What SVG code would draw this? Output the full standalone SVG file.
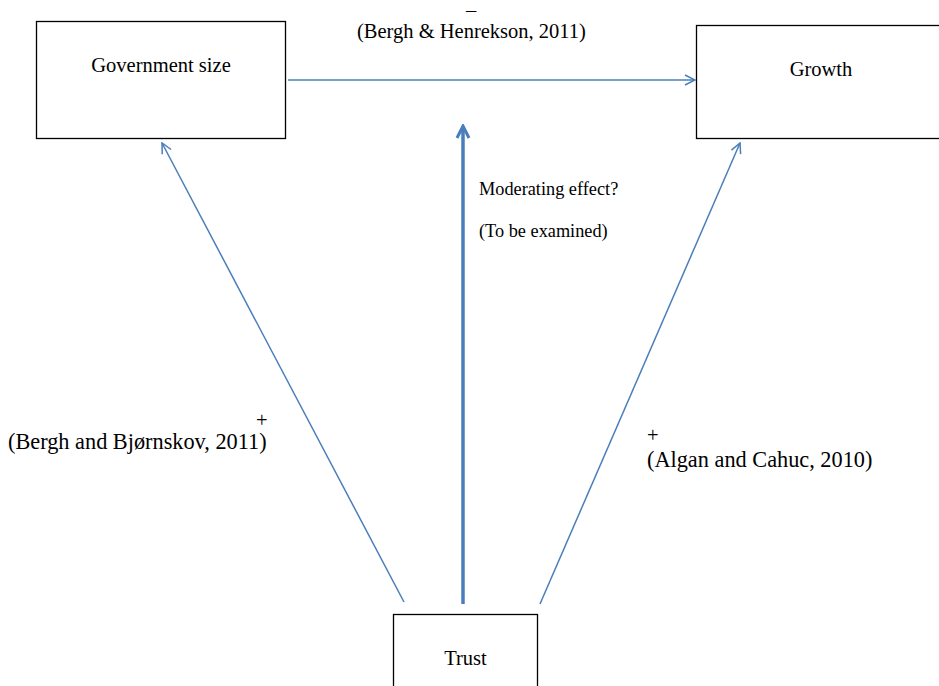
<svg xmlns="http://www.w3.org/2000/svg" width="939" height="686" viewBox="0 0 939 686">
<style>
.box{fill:#fff;stroke:#000;stroke-width:1.3}
.t{font-family:"Liberation Serif","Times New Roman",serif;fill:#000}
.lbl{font-size:20.5px}
.big{font-size:22.3px}
.small{font-size:18.3px}
.c{stroke:#4a7ebb;stroke-width:1.5;fill:none}
</style>
<defs>
<marker id="ah" viewBox="0 0 12 12" refX="11" refY="6" markerWidth="12" markerHeight="12" markerUnits="userSpaceOnUse" orient="auto">
<path d="M1,1 L11,6 L1,11" fill="none" stroke="#4a7ebb" stroke-width="1.5"/>
</marker>
<marker id="ah2" viewBox="0 0 16 16" refX="14" refY="8" markerWidth="16" markerHeight="16" markerUnits="userSpaceOnUse" orient="auto">
<path d="M2,2 L14,8 L2,14" fill="none" stroke="#4a7ebb" stroke-width="3"/>
</marker>
</defs>
<g id="connectors">
<line class="c" x1="288" y1="80" x2="695" y2="80" marker-end="url(#ah)"/>
<line class="c" x1="404" y1="602" x2="162" y2="143" marker-end="url(#ah)"/>
<line class="c" x1="540" y1="604" x2="740" y2="143" marker-end="url(#ah)"/>
<line class="c" style="stroke-width:3.5" x1="463" y1="604" x2="463" y2="126" marker-end="url(#ah2)"/>
</g>
<g id="government">
<rect class="box" x="36.5" y="21.5" width="249" height="117"/>
<text class="t lbl" x="161" y="72" text-anchor="middle">Government size</text>
</g>
<g id="growth">
<rect class="box" x="696.5" y="25.5" width="250" height="113"/>
<text class="t lbl" x="821" y="76" text-anchor="middle">Growth</text>
</g>
<g id="trust">
<rect class="box" x="393.5" y="614.5" width="144" height="80"/>
<text class="t lbl" x="465.5" y="665" text-anchor="middle">Trust</text>
</g>
<g id="labels">
<text class="t lbl" x="471" y="17" text-anchor="middle">–</text>
<text class="t lbl" x="357" y="38">(Bergh &amp; Henrekson, 2011)</text>
<text class="t small" x="479" y="195">Moderating effect?</text>
<text class="t small" x="479" y="237">(To be examined)</text>
<text class="t lbl" x="256" y="427">+</text>
<text class="t big" x="8" y="449">(Bergh and Bjørnskov, 2011)</text>
<text class="t lbl" x="647" y="442">+</text>
<text class="t big" x="647" y="467">(Algan and Cahuc, 2010)</text>
</g>
</svg>
